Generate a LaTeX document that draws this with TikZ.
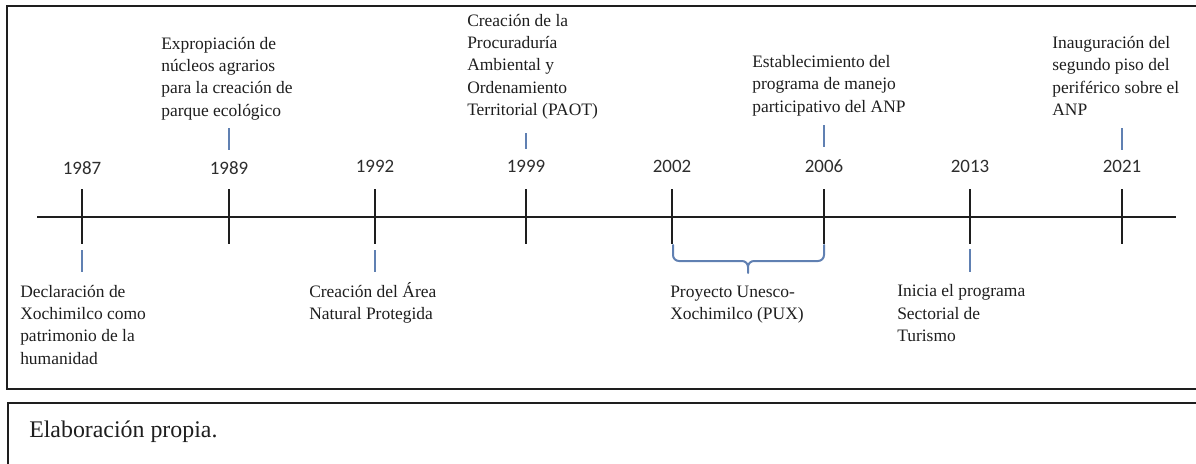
\documentclass[tikz,border=0pt]{standalone}
\usepackage{fontspec}
\setmainfont{Liberation Serif}
\newfontfamily\yearfont{Carlito}
\definecolor{ink}{RGB}{30,30,30}
\definecolor{yearink}{RGB}{45,45,45}
\definecolor{bluelink}{RGB}{96,128,178}
\tikzset{
  frame/.style={draw=ink, line width=1.5pt},
  axisline/.style={draw=ink, line width=1.5pt},
  tickline/.style={draw=ink, line width=1.5pt},
  linkline/.style={draw=bluelink, line width=1.1pt},
  bracepath/.style={draw=bluelink, line width=1.5pt, line cap=round},
  yearlabel/.style={anchor=base, inner sep=0pt, text=yearink, font=\yearfont\fontsize{14.2pt}{17pt}\selectfont},
  % anchor base = baseline of the LAST line of a multi-line node
  eventtext/.style={anchor=base west, inner sep=0pt, align=left, text=ink, font=\fontsize{13.1pt}{16.7pt}\selectfont},
  notetext/.style={anchor=base west, inner sep=0pt, text=ink, font=\fontsize{17.9pt}{21pt}\selectfont}
}
\begin{document}
\begin{tikzpicture}[x=0.75pt, y=-0.75pt]
\useasboundingbox (0,0) rectangle (1196,464);
\clip (0,0) rectangle (1196,464);
% frames
\path[frame] (7,6) rectangle (1215,389);
\path[frame] (8,403) rectangle (1215,480);
% axis
\coordinate (axL) at (37,217);
\coordinate (axR) at (1176,217);
\path[axisline] (axL) -- (axR);
% ticks
\foreach \nm/\xx in {a/82, b/229, c/375, d/526, e/672, f/824, g/970, h/1122}{
  \coordinate (t\nm top) at (\xx,189);
  \coordinate (t\nm bot) at (\xx,244);
  \path[tickline] (t\nm top) -- (t\nm bot);
}
\node[yearlabel] (y1987) at (82,174) {1987};
\node[yearlabel] (y1989) at (229,174) {1989};
\node[yearlabel] (y1992) at (375,172) {1992};
\node[yearlabel] (y1999) at (526,172) {1999};
\node[yearlabel] (y2002) at (672,172) {2002};
\node[yearlabel] (y2006) at (824,172) {2006};
\node[yearlabel] (y2013) at (970,172) {2013};
\node[yearlabel] (y2021) at (1122,172) {2021};
% events above (positions give the baseline of the last line)
\node[eventtext] (ev1989) at (161,116) {Expropiación de\\núcleos agrarios\\para la creación de\\parque ecológico};
\node[eventtext] (ev1999) at (467,115.5) {Creación de la\\Procuraduría\\Ambiental y\\Ordenamiento\\Territorial (PAOT)};
\node[eventtext] (ev2006) at (752,112) {Establecimiento del\\programa de manejo\\participativo del ANP};
\node[eventtext] (ev2021) at (1052,115.5) {Inauguración del\\segundo piso del\\periférico sobre el\\ANP};
% events below
\node[eventtext] (ev1987) at (20,364) {Declaración de\\Xochimilco como\\patrimonio de la\\humanidad};
\node[eventtext] (ev1992) at (309,319.5) {Creación del Área\\Natural Protegida};
\node[eventtext] (evpux) at (670,319.5) {Proyecto Unesco-\\Xochimilco (PUX)};
\node[eventtext] (ev2013) at (897,341.5) {Inicia el programa\\Sectorial de\\Turismo};
% blue link marks
\coordinate (l1989a) at (229,128); \coordinate (l1989b) at (229,150);
\coordinate (l1999a) at (526,133); \coordinate (l1999b) at (526,149);
\coordinate (l2006a) at (824,125); \coordinate (l2006b) at (824,147);
\coordinate (l2021a) at (1122,128); \coordinate (l2021b) at (1122,150);
\coordinate (l1987a) at (82,250); \coordinate (l1987b) at (82,272);
\coordinate (l1992a) at (375,250); \coordinate (l1992b) at (375,272);
\coordinate (l2013a) at (970,249); \coordinate (l2013b) at (970,272);
\foreach \p in {1989,1999,2006,2021,1987,1992,2013}{
  \path[linkline] (l\p a) -- (l\p b);
}
% brace
\coordinate (brL) at (673,245);
\coordinate (brR) at (824,245);
\coordinate (brM) at (748,273);
\path[bracepath] (brL) -- (673,255) to[out=-90,in=180] (679,261) -- (742,261) to[out=0,in=90] (748,267) -- (brM);
\path[bracepath] (brR) -- (824,255) to[out=-90,in=0] (818,261) -- (754,261) to[out=180,in=90] (748,267);
% note
\node[notetext] (note) at (29,437) {Elaboración propia.};
\end{tikzpicture}
\end{document}
